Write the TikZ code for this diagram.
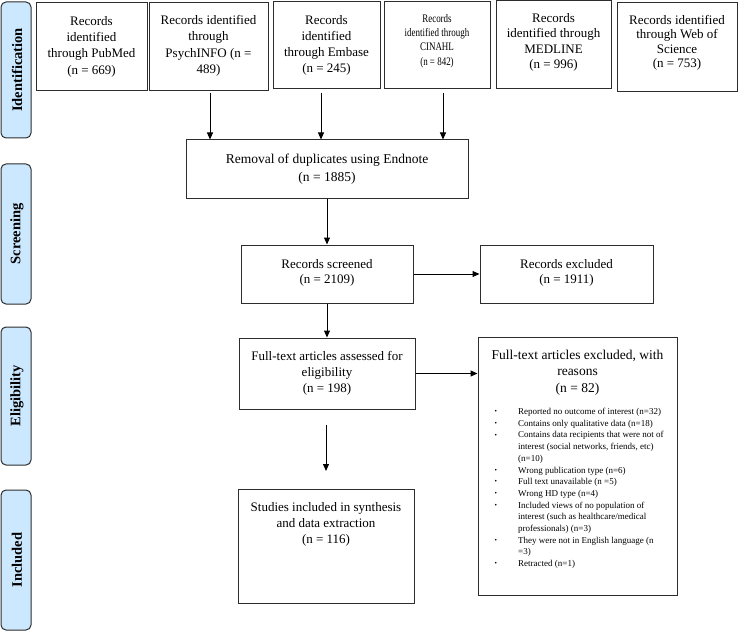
\documentclass[tikz,border=0pt]{standalone}
\usepackage{fontspec}
\setmainfont{Liberation Serif}
\newfontfamily\condensed[FakeStretch=0.78]{Liberation Serif}
\usetikzlibrary{arrows.meta}
\definecolor{barfill}{RGB}{204,232,255}
\definecolor{linecol}{RGB}{45,45,45}
\newcommand{\bul}{\makebox[24pt][l]{\hspace{0.5pt}\raisebox{0.8pt}{\fontsize{7}{7}\selectfont •}}}
\newcommand{\ind}{\hspace*{24pt}}
\begin{document}
\begin{tikzpicture}[x=1pt,y=-1pt,
  box/.style={draw=linecol, line width=1pt, fill=white, inner sep=0pt},
  txt/.style={align=center, inner sep=0pt, font=\fontsize{13}{16.3}\selectfont},
  bar/.style={draw=linecol, line width=1pt, fill=barfill, rounded corners=5pt, inner sep=0pt, minimum width=30pt},
  barlbl/.style={rotate=90, font=\fontsize{14.5}{16}\selectfont\bfseries, inner sep=0pt},
  arr/.style={draw=black, line width=1pt, -{Triangle[length=7pt,width=6pt]}}]
\useasboundingbox (0,0) rectangle (738,631);

% side bars
\node[bar, minimum height=136pt] (identbar) at (16,70) {};
\node[barlbl] (identlbl) at (17,70) {Identification};
\node[bar, minimum height=140pt] (screenbar) at (16,234) {};
\node[barlbl] (screenlbl) at (17,234) {Screening};
\node[bar, minimum height=138pt] (eligbar) at (16,396) {};
\node[barlbl] (eliglbl) at (17,396) {Eligibility};
\node[bar, minimum height=140pt] (inclbar) at (16,560) {};
\node[barlbl] (incllbl) at (17,560) {Included};

% identification boxes
\node[box, minimum width=111pt, minimum height=88pt] (pubmed) at (91.5,47) {};
\node[txt] (pubmedT) at (91.5,46.5) {Records\\identified\\through PubMed\\(n = 669)};
\node[box, minimum width=119pt, minimum height=88pt] (psych) at (208.5,47) {};
\node[txt, font=\fontsize{13}{16.5}\selectfont] (psychT) at (208.5,46) {Records identified\\through\\PsychINFO (n =\\489)};
\node[box, minimum width=107pt, minimum height=87pt] (embase) at (326.5,45.5) {};
\node[txt, font=\fontsize{13}{16}\selectfont] (embaseT) at (326.5,45) {Records\\identified\\through Embase\\(n = 245)};
\node[box, minimum width=106pt, minimum height=87pt] (cinahl) at (437,45.5) {};
\node[txt, font=\condensed\fontsize{11.5}{14.3}\selectfont] (cinahlT) at (437,41) {Records\\identified through\\CINAHL\\(n = 842)};
\node[box, minimum width=115pt, minimum height=88pt] (medline) at (553.5,45) {};
\node[txt, font=\fontsize{13}{15.3}\selectfont] (medlineT) at (553.5,42.5) {Records\\identified through\\MEDLINE\\(n = 996)};
\node[box, minimum width=120pt, minimum height=89pt] (wos) at (677,47.5) {};
\node[txt, font=\fontsize{13}{14.5}\selectfont] (wosT) at (677,43) {Records identified\\through Web of\\Science\\(n = 753)};

% flow boxes
\node[box, minimum width=282pt, minimum height=58pt] (removal) at (327,169) {};
\node[txt, font=\fontsize{13.5}{18}\selectfont] (removalT) at (327,169.5) {Removal of duplicates using Endnote\\(n = 1885)};
\node[box, minimum width=172pt, minimum height=58pt] (screened) at (327,274) {};
\node[txt, font=\fontsize{13}{15}\selectfont] (screenedT) at (327,273) {Records screened\\(n = 2109)};
\node[box, minimum width=173pt, minimum height=58pt] (excluded) at (566.5,274) {};
\node[txt, font=\fontsize{13}{15}\selectfont] (excludedT) at (566.5,273) {Records excluded\\(n = 1911)};
\node[box, minimum width=176pt, minimum height=71pt] (fulltext) at (327,373.5) {};
\node[txt, font=\fontsize{13}{16}\selectfont] (fulltextT) at (327,373.5) {Full-text articles assessed for\\eligibility\\(n = 198)};
\node[box, minimum width=199pt, minimum height=258pt] (reasons) at (577.5,466) {};
\node[txt, font=\fontsize{13.5}{16.5}\selectfont] (reasonsT) at (577.5,372.5) {Full-text articles excluded, with\\reasons\\(n = 82)};
\node[anchor=north west, align=left, inner sep=0pt, font=\fontsize{9}{11.7}\selectfont] (reasonsL) at (494,408) {%
\bul Reported no outcome of interest (n=32)\\
\bul Contains only qualitative data (n=18)\\
\bul Contains data recipients that were not of\\
\ind interest (social networks, friends, etc)\\
\ind (n=10)\\
\bul Wrong publication type (n=6)\\
\bul Full text unavailable (n =5)\\
\bul Wrong HD type (n=4)\\
\bul Included views of no population of\\
\ind interest (such as healthcare/medical\\
\ind professionals) (n=3)\\
\bul They were not in English language (n\\
\ind =3)\\
\bul Retracted (n=1)};
\node[box, minimum width=176pt, minimum height=114pt] (studies) at (326,546) {};
\node[txt, font=\fontsize{13}{16}\selectfont] (studiesT) at (326,524.5) {Studies included in synthesis\\and data extraction\\(n = 116)};

% connectors
\coordinate (a1) at (210,93);
\coordinate (a2) at (321,93);
\coordinate (a3) at (443,93);
\coordinate (a4) at (326,425);
\coordinate (a5) at (326,471);
\draw[arr] (a1) -- (a1 |- removal.north);
\draw[arr] (a2) -- (a2 |- removal.north);
\draw[arr] (a3) -- (a3 |- removal.north);
\draw[arr] (removal.south) -- (screened.north);
\draw[arr] (screened.east) -- (excluded.west);
\draw[arr] (screened.south) -- (fulltext.north);
\draw[arr] (fulltext.east) -- (fulltext.east -| reasons.west);
\draw[arr] (a4) -- (a5);
\end{tikzpicture}
\end{document}
